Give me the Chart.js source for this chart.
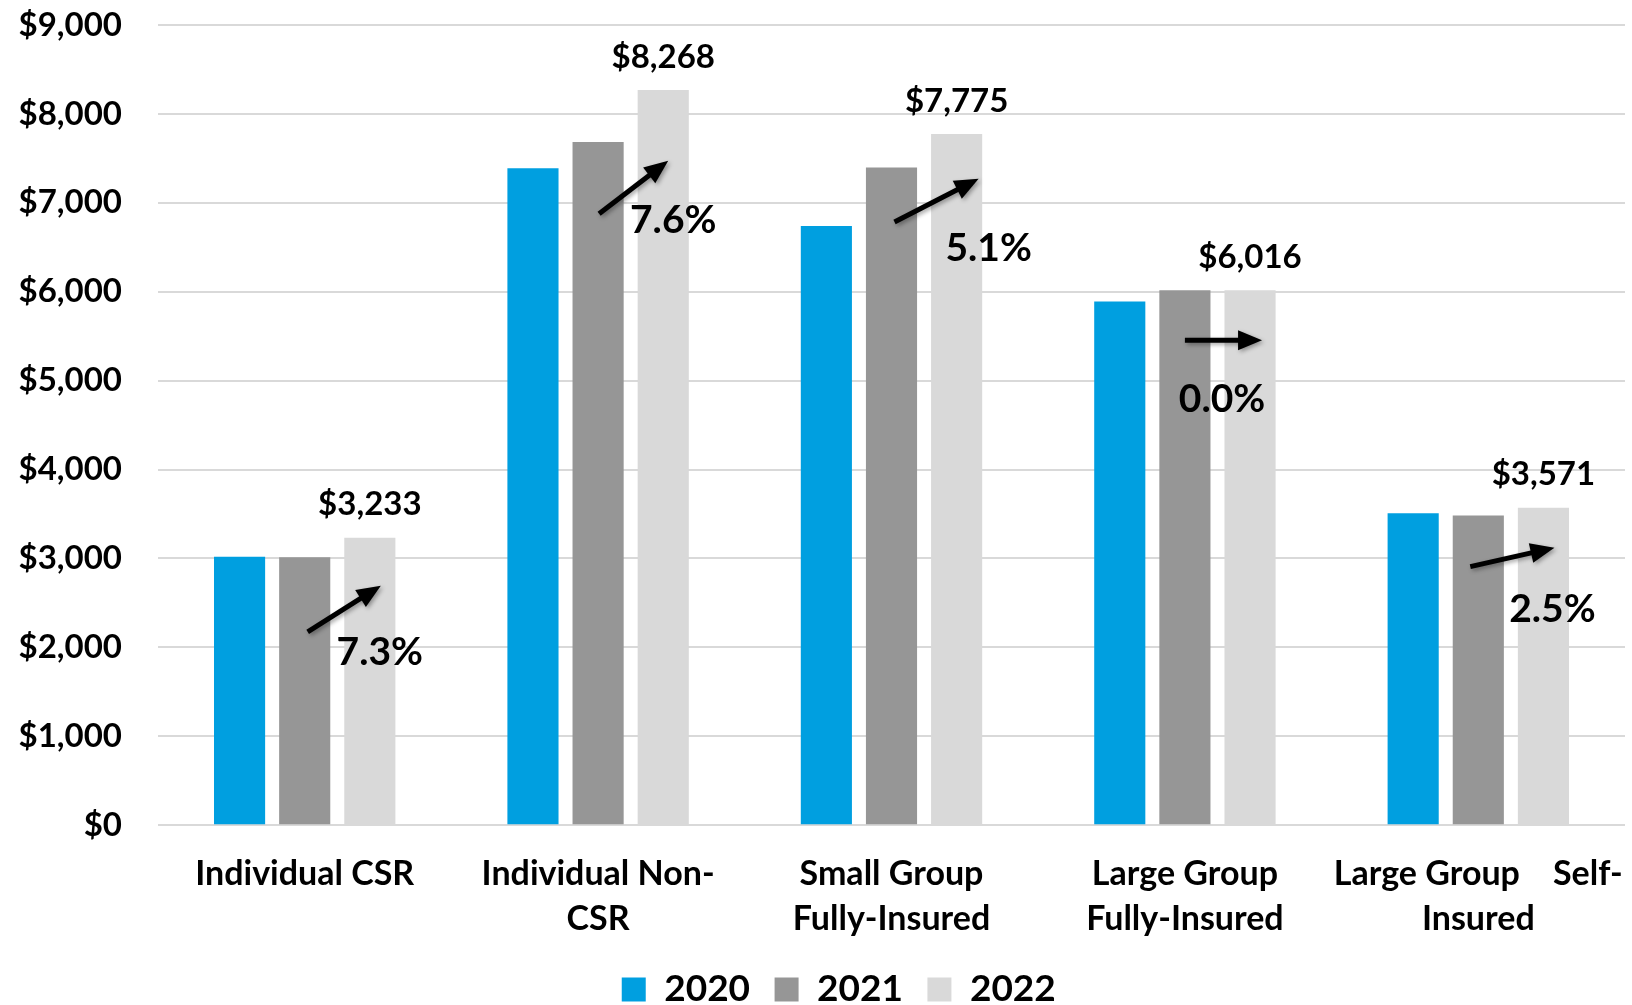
<!DOCTYPE html>
<html>
<head>
<meta charset="utf-8">
<script src="https://cdn.jsdelivr.net/npm/chart.js@4"></script>
<style>
  html, body { margin: 0; padding: 0; background: #fff; }
  #wrap { width: 1632px; height: 1005px; }
</style>
</head>
<body>
<div id="wrap"><canvas id="bars"></canvas></div>
<script>
const categories = [
  'Individual CSR',
  ['Individual Non-', 'CSR'],
  ['Small Group', 'Fully-Insured'],
  ['Large Group', 'Fully-Insured'],
  ['Large Group    Self-', 'Insured']
];
const years = ['2020', '2021', '2022'];
const values2020 = [3020, 7390, 6740, 5890, 3510];
const values2021 = [3013, 7684, 7398, 6016, 3484];
const values2022 = [3233, 8268, 7775, 6016, 3571];
const changeLabels = ['7.3%', '7.6%', '5.1%', '0.0%', '2.5%'];
const yTicks = [0, 1000, 2000, 3000, 4000, 5000, 6000, 7000, 8000, 9000];

// arrow annotations: pixel nudges from the 2021 / 2022 bar centres, heights in $ units
const arrowSpots = [
  { tx: 3,  ty: 2175, hx: 11, hy: 2694, lx: 10, ly: 1939 },
  { tx: 1,  ty: 6876, hx: 5,  hy: 7473, lx: 10, ly: 6797 },
  { tx: 3,  ty: 6785, hx: 22, hy: 7270, lx: 32, ly: 6492 },
  { tx: 0,  ty: 5455, hx: 12, hy: 5455, lx: -28, ly: 4790 },
  { tx: -8, ty: 2908, hx: 11, hy: 3122, lx: 9,  ly: 2423 }
];

const fontFam = "Lato, 'Open Sans', sans-serif";

const annotate = {
  id: 'annotate',
  afterLayout(chart) {
    // nudge the legend row, as in the source
    chart.legend.left += 71;
    chart.legend.top += 6;
  },
  afterDatasetsDraw(chart) {
    const { ctx, scales: { y } } = chart;
    const m21 = chart.getDatasetMeta(1).data;
    const m22 = chart.getDatasetMeta(2).data;
    ctx.save();
    // value labels on 2022 bars
    ctx.fillStyle = '#000';
    ctx.font = 'bold 33px ' + fontFam;
    ctx.textAlign = 'center';
    ctx.textBaseline = 'middle';
    m22.forEach((bar, i) => {
      ctx.fillText('$' + values2022[i].toLocaleString('en-US'), bar.x, bar.y - 33);
    });
    // arrows
    arrowSpots.forEach((a, i) => {
      const x1 = m21[i].x + a.tx, y1 = y.getPixelForValue(a.ty);
      const x2 = m22[i].x + a.hx, y2 = y.getPixelForValue(a.hy);
      const ang = Math.atan2(y2 - y1, x2 - x1);
      const hl = 24, hw = 10;
      ctx.save();
      ctx.shadowColor = 'rgba(0,0,0,0.35)';
      ctx.shadowBlur = 4;
      ctx.shadowOffsetX = 2;
      ctx.shadowOffsetY = 2;
      ctx.strokeStyle = '#000';
      ctx.fillStyle = '#000';
      ctx.lineWidth = 5;
      ctx.beginPath();
      ctx.moveTo(x1, y1);
      ctx.lineTo(x2 - hl * Math.cos(ang) * 0.8, y2 - hl * Math.sin(ang) * 0.8);
      ctx.stroke();
      ctx.beginPath();
      ctx.moveTo(x2, y2);
      ctx.lineTo(x2 - hl * Math.cos(ang) - hw * Math.sin(ang), y2 - hl * Math.sin(ang) + hw * Math.cos(ang));
      ctx.lineTo(x2 - hl * Math.cos(ang) + hw * Math.sin(ang), y2 - hl * Math.sin(ang) - hw * Math.cos(ang));
      ctx.closePath();
      ctx.fill();
      ctx.restore();
      ctx.font = 'bold 39px ' + fontFam;
      ctx.fillText(changeLabels[i], m22[i].x + a.lx, y.getPixelForValue(a.ly));
    });
    ctx.restore();
  }
};

const barChart = new Chart(document.getElementById('bars').getContext('2d'), {
  type: 'bar',
  data: {
    labels: categories,
    datasets: [
      { label: years[0], data: values2020, backgroundColor: '#009fe0' },
      { label: years[1], data: values2021, backgroundColor: '#969696' },
      { label: years[2], data: values2022, backgroundColor: '#d9d9d9' }
    ]
  },
  options: {
    responsive: true,
    maintainAspectRatio: false,
    animation: false,
    categoryPercentage: 0.666,
    barPercentage: 0.785,
    layout: { padding: { left: 0, right: 7, top: 0, bottom: -7 } },
    scales: {
      x: {
        grid: { display: false },
        border: { display: false },
        afterFit: s => { s.paddingLeft = 0; s.paddingRight = 0; },
        ticks: {
          color: '#000',
          padding: 18,
          maxRotation: 0,
          autoSkip: false,
          font: { family: fontFam, size: 34, weight: 'bold', lineHeight: 1.32 }
        }
      },
      y: {
        min: 0,
        max: 9000,
        afterBuildTicks: s => { s.ticks = yTicks.map(v => ({ value: v })); },
        afterFit: s => { s.width = 158; s.paddingTop = 25; s.paddingBottom = 0; },
        grid: { color: '#d9d9d9', lineWidth: 2, drawTicks: false },
        border: { display: false },
        ticks: {
          color: '#000',
          padding: 36,
          font: { family: fontFam, size: 33, weight: 'bold' },
          callback: v => '$' + v.toLocaleString('en-US')
        }
      }
    },
    plugins: {
      tooltip: { enabled: false },
      legend: {
        position: 'bottom',
        labels: {
          color: '#000',
          boxWidth: 24,
          boxHeight: 24,
          padding: 6,
          font: { family: fontFam, size: 37, weight: 'bold' },
          generateLabels: chart => Chart.defaults.plugins.legend.labels.generateLabels(chart)
            .map(item => ({ ...item, text: item.text + '\u2002' }))
        }
      }
    }
  },
  plugins: [annotate]
});
</script>
</body>
</html>
